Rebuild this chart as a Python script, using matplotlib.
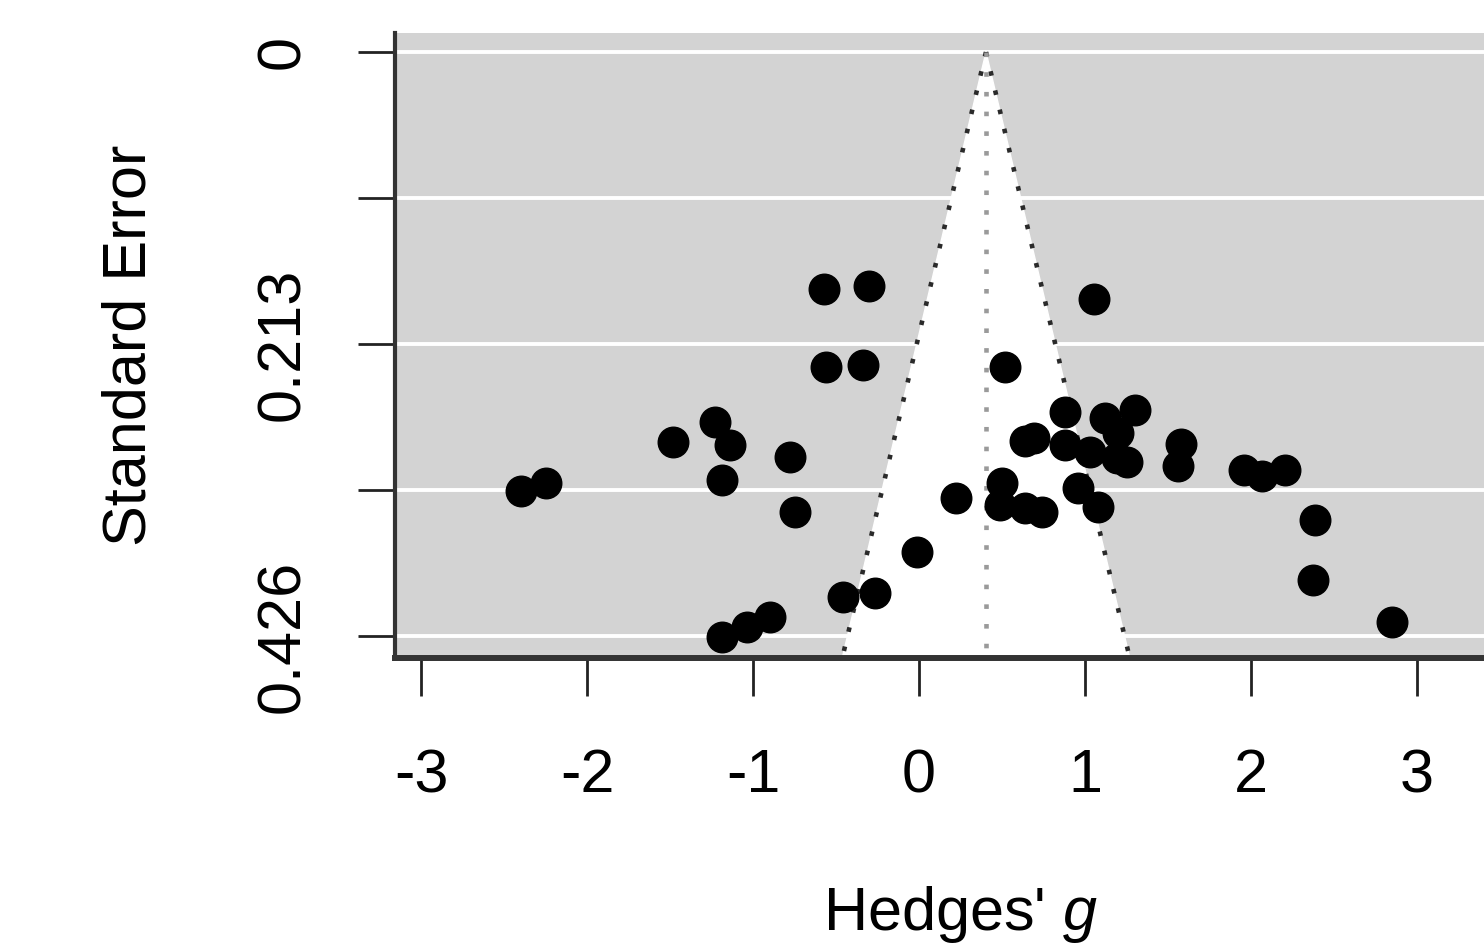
import numpy as np
import matplotlib
matplotlib.use('agg')
import matplotlib.pyplot as plt

plt.rcParams['font.family'] = ['Liberation Sans', 'DejaVu Sans']
plt.rcParams['mathtext.fontset'] = 'custom'
plt.rcParams['mathtext.it'] = 'Liberation Sans:italic'
plt.rcParams['mathtext.rm'] = 'Liberation Sans'

# effect sizes (Hedges' g) and their standard errors
hedges_g = [-0.572, -0.301, 1.054, -0.560, -0.337, 0.518, -1.482, -1.229, -1.139,
            -1.187, -0.777, -0.747, -2.398, -2.247, -1.187, -1.036, -0.898, -0.458,
            -0.265, -0.012, 0.223, 0.500, 0.488, 0.639, 0.741, 0.639, 0.693, 0.880,
            0.880, 0.958, 1.078, 1.030, 1.120, 1.301, 1.199, 1.193, 1.253, 1.578,
            1.560, 1.958, 2.066, 2.205, 2.386, 2.373, 2.849]
std_err = [0.1729, 0.1707, 0.1802, 0.2298, 0.2283, 0.2298, 0.2845, 0.2699, 0.2866,
           0.3122, 0.2954, 0.3355, 0.3202, 0.3144, 0.4267, 0.4194, 0.4121, 0.3975,
           0.3946, 0.3647, 0.3253, 0.3144, 0.3304, 0.3326, 0.3355, 0.2837, 0.2815,
           0.2626, 0.2866, 0.3180, 0.3319, 0.2918, 0.2670, 0.2611, 0.2779, 0.2961,
           0.2991, 0.2859, 0.3020, 0.3049, 0.3093, 0.3049, 0.3414, 0.3851, 0.4158]

pooled = 0.404
y_ticks = [0, 0.1065, 0.213, 0.3195, 0.426]
y_labels = ['0', '', '0.213', '', '0.426']
x_ticks = [-3, -2, -1, 0, 1, 2, 3]

fig = plt.figure(figsize=(14.84, 9.46), dpi=100)
# axes run off the right edge of the figure, as in the original crop
ax = fig.add_axes([395 / 1484, 288 / 946, 1182 / 1484, 625 / 946])
ax.set_xlim(-3.157, 3.965)
ax.set_ylim(0.4419, -0.0139)
ax.set_facecolor('#d3d3d3')

for t in y_ticks:
    ax.axhline(t, color='white', lw=2.8, zorder=1)

se_max = 0.4419
ax.fill([pooled, pooled - 1.96 * se_max, pooled + 1.96 * se_max],
        [0, se_max, se_max], color='white', zorder=2)

edge_l, = ax.plot([pooled, pooled - 1.96 * se_max], [0, se_max], color='#2a2a2a', lw=3.3, zorder=3)
edge_r, = ax.plot([pooled, pooled + 1.96 * se_max], [0, se_max], color='#2a2a2a', lw=3.3, zorder=3)
center, = ax.plot([pooled, pooled], [0, se_max], color='#9a9a9a', lw=3.3, zorder=3)
for ln in (edge_l, edge_r, center):
    ln.set_dashes((1.0, 3.3))

ax.plot(hedges_g, std_err, 'o', color='black', markersize=22, zorder=4)

for side in ['top', 'right']:
    ax.spines[side].set_visible(False)
ax.spines['left'].set_linewidth(3)
ax.spines['left'].set_color('#333333')
ax.spines['bottom'].set_linewidth(4.3)
ax.spines['bottom'].set_color('#333333')

ax.set_yticks(y_ticks)
ax.set_yticklabels(y_labels, rotation=90, va='center')
ax.set_xticks(x_ticks)
ax.set_xticklabels([str(v) for v in x_ticks])
ax.tick_params(axis='y', length=27, width=2, color='#222222', pad=33, labelsize=44)
ax.tick_params(axis='x', length=27, width=2, color='#222222', pad=38, labelsize=44)

fig.text(960 / 1484, 1 - 930 / 946, "Hedges' $g$", ha='center', va='baseline', fontsize=44)
fig.text(130 / 1484, 1 - 345 / 946, 'Standard Error', ha='center', va='center',
         rotation=90, fontsize=44)

plt.savefig('out.png', dpi=100)
plt.close()
